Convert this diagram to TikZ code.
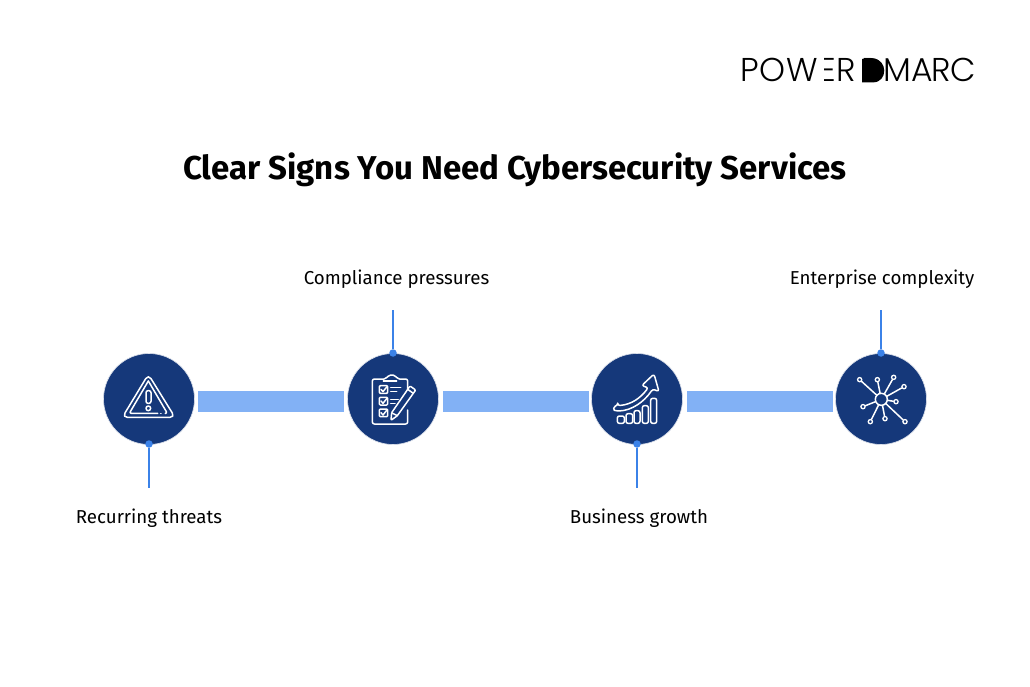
\documentclass[tikz,border=0pt]{standalone}
\usepackage{fontspec}
\setmainfont{Fira Sans}
\newfontfamily\logofont[LetterSpace=3]{Poppins Light}
\newfontfamily\logofontb[LetterSpace=-2]{Poppins Light}
\newfontfamily\titlefont{Fira Sans}[UprightFont=*,BoldFont=* Bold]
\definecolor{navy}{HTML}{15387A}
\definecolor{barblue}{HTML}{82B1F5}
\definecolor{linkblue}{HTML}{3B82E8}
\tikzset{
  disc/.style={circle,fill=navy,draw=white!85!navy,line width=0.6pt,minimum size=91pt,inner sep=0pt},
  barbox/.style={rectangle,fill=barblue,minimum width=146pt,minimum height=20.5pt,inner sep=0pt},
  dotnode/.style={circle,fill=linkblue,minimum size=7.5pt,inner sep=0pt},
  link/.style={draw=linkblue,line width=1.5pt},
  captext/.style={font=\fontsize{18.7}{21}\selectfont,text=black,inner sep=0pt},
  ic/.style={draw=white,line width=1.5pt,line join=round,line cap=round},
  zoomA/.style={x=0.33333pt,y=-0.33333pt}
}
\begin{document}
\begin{tikzpicture}[x=1pt,y=-1pt]
\useasboundingbox (0,0) rectangle (1030,687);
\fill[white] (0,0) rectangle (1030,687);
% logo
\node[anchor=base west,inner sep=0pt,font=\logofont\fontsize{33}{33}\selectfont] (logoa) at (740,82) {POWER};
\node[anchor=base west,inner sep=0pt,font=\logofontb\fontsize{33}{33}\selectfont] (logob) at (861,82) {DMARC};
% title
\node[inner sep=0pt,font=\titlefont\bfseries\fontsize{33}{36}\selectfont] (title) at (515,170) {Clear Signs You Need Cybersecurity Services};
% bars
\node[barbox] (b1) at (271,401.5) {};
\node[barbox] (b2) at (515.5,401.5) {};
\node[barbox] (b3) at (759.5,401.5) {};
% discs
\node[disc] (c1) at (149,399) {};
\node[disc] (c2) at (393,399) {};
\node[disc] (c3) at (637,399) {};
\node[disc] (c4) at (881,399) {};
% connectors
\node[captext] (l1) at (149,518) {Recurring threats};
\node[captext] (l2) at (396.5,279) {Compliance pressures};
\node[captext] (l3) at (639,518) {Business growth};
\node[captext] (l4) at (882,279) {Enterprise complexity};
\node[dotnode] (d1) at (149,444) {};
\node[dotnode] (d2) at (393,353) {};
\node[dotnode] (d3) at (637,444) {};
\node[dotnode] (d4) at (881,353) {};
\coordinate (e1) at (149,488);
\coordinate (e2) at (393,310);
\coordinate (e3) at (637,488);
\coordinate (e4) at (881,310);
\draw[link] (d1) -- (e1);
\draw[link] (d2) -- (e2);
\draw[link] (d3) -- (e3);
\draw[link] (d4) -- (e4);
% warning icon
\begin{scope}[shift={(95,345)},zoomA]
\draw[ic,rounded corners=5pt] (160,88) -- (240,217) -- (82,217) -- cycle;
\draw[ic,rounded corners=2pt] (160,108) -- (217,205) -- (212,205);
\draw[ic,rounded corners=2pt] (188,205) -- (103,205) -- (160,108);
\draw[ic] (197,205) -- (198,205);
\draw[ic,rounded corners=2pt] (153,137) rectangle (168,175);
\draw[ic] (160,190) circle (7);
\end{scope}
% clipboard icon
\begin{scope}[shift={(340,345)},zoomA]
\draw[ic,rounded corners=2pt] (203,165) -- (203,102) -- (172,102) -- (165,90) -- (146,90) -- (138,102) -- (97,102) -- (97,237) -- (203,237) -- (203,195);
\draw[ic] (130,108) -- (170,108);
\draw[ic,rounded corners=1pt] (118,122) rectangle (143,145);
\draw[ic,rounded corners=1pt] (118,157) rectangle (143,180);
\draw[ic,rounded corners=1pt] (118,192) rectangle (143,215);
\draw[ic] (123,133) -- (129,140) -- (140,126);
\draw[ic] (123,168) -- (129,175) -- (140,161);
\draw[ic] (123,203) -- (129,210) -- (140,196);
\draw[ic] (152,128) -- (182,128);
\draw[ic] (152,140) -- (170,140);
\draw[ic] (152,163) -- (175,163);
\draw[ic] (152,175) -- (165,175);
\draw[ic,fill=navy,rounded corners=1pt] (210,123) -- (227,135) -- (172,212) -- (153,226) -- (155,203) -- cycle;
\draw[ic] (203,133) -- (220,145);
\draw[ic] (158,205) -- (172,212);
\end{scope}
% chart icon
\begin{scope}[shift={(585,345)},zoomA]
\draw[ic,rounded corners=2pt] (97,213) rectangle (118,235);
\draw[ic,rounded corners=2pt] (123,206) rectangle (143,235);
\draw[ic,rounded corners=2pt] (147,197) rectangle (165,235);
\draw[ic,rounded corners=2pt] (172,182) rectangle (190,235);
\draw[ic,rounded corners=2pt] (197,160) rectangle (215,235);
\draw[ic,rounded corners=2.5pt] (98,182) .. controls (140,178) and (165,160) .. (190,128) -- (170,122) -- (207,87) -- (222,140) -- (203,132) .. controls (178,170) and (140,197) .. (95,198) .. controls (85,195) and (85,185) .. (98,182) -- cycle;
\end{scope}
% network icon
\begin{scope}[shift={(827,345)},zoomA]
\node[inner sep=0pt,minimum size=0pt] (hub) at (163,163) {};
\foreach \n/\px/\py in {a/98/104,b/151/104,c/200/97,d/231/125,e/207/170,f/108/185,g/130/230,h/174/221,i/234/230}{
  \node[circle,inner sep=0pt,minimum size=4.2pt,draw=white,line width=1.3pt,fill=navy] (n\n) at (\px,\py) {};
  \draw[ic] (hub) -- (n\n);
}
\node[circle,inner sep=0pt,minimum size=12pt,draw=white,line width=1.5pt,fill=navy] (hubc) at (163,163) {};
\end{scope}
% logo letter edits: E without stem, solid D
\fill[white] (820,56) rectangle (824.2,85);
\fill[black] (862,59) -- (873,59) .. controls (888,59) and (888,82.4) .. (873,82.4) -- (862,82.4) -- cycle;
\end{tikzpicture}
\end{document}
